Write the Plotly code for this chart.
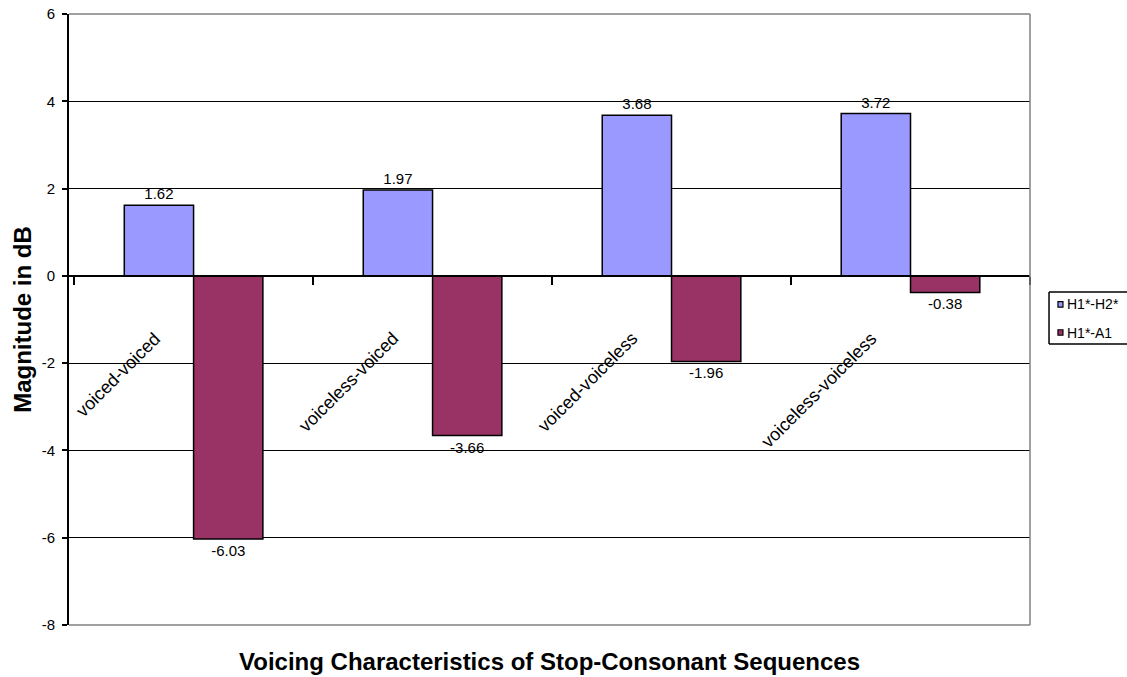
import plotly.graph_objects as go

# --------------------------
# data
# --------------------------
categories = ["voiced-voiced", "voiceless-voiced", "voiced-voiceless", "voiceless-voiceless"]
h1_h2 = [1.62, 1.97, 3.68, 3.72]
h1_a1 = [-6.03, -3.66, -1.96, -0.38]
series_names = ["H1*-H2*", "H1*-A1"]
series_colors = ["#9999FF", "#993366"]
y_ticks = [-8, -6, -4, -2, 0, 2, 4, 6]
y_tick_text = [str(v) for v in y_ticks]  # plain hyphen, like excel

FONT = "Liberation Sans, Arial, sans-serif"

fig = go.Figure()
for name, vals, col in zip(series_names, [h1_h2, h1_a1], series_colors):
    fig.add_trace(go.Bar(x=categories, y=vals, name=name,
                         marker=dict(color=col, line=dict(color="black", width=1.5)),
                         text=[f"{v:.2f}" for v in vals], texttemplate="%{text}",
                         textposition="outside", textfont=dict(size=15, color="black"),
                         cliponaxis=False))

# category labels sit under the zero line, rotated like the excel original
for c in categories:
    fig.add_annotation(x=c, y=0, xref="x", yref="y", text=c, showarrow=False,
                       textangle=-45, xanchor="right", yanchor="top",
                       xshift=-27, yshift=-50,
                       font=dict(family=FONT, size=18, color="black"))

fig.add_annotation(x=0.5, y=-0.06, xref="paper", yref="paper",
                   text="<b>Voicing Characteristics of Stop-Consonant Sequences</b>",
                   showarrow=False, yanchor="middle",
                   font=dict(family=FONT, size=24, color="black"))

# grey frame top / right / bottom
for x0, y0, x1, y1 in [(0, 1, 1, 1), (1, 0, 1, 1), (0, 0, 1, 0)]:
    fig.add_shape(type="line", xref="paper", yref="paper", x0=x0, y0=y0, x1=x1, y1=y1,
                  line=dict(color="#808080", width=1.5), layer="above")

# excel-style legend box, cut off at the right edge
lx0, lx1, ly0, ly1 = 1.0198, 1.2, 0.46, 0.545
for x0, y0, x1, y1 in [(lx0, ly0, lx0, ly1), (lx0, ly1, lx1, ly1), (lx0, ly0, lx1, ly0)]:
    fig.add_shape(type="line", xref="paper", yref="paper", x0=x0, y0=y0, x1=x1, y1=y1,
                  line=dict(color="black", width=1.5))
for i, (name, col) in enumerate(zip(series_names, series_colors)):
    yc = 0.5246 - i * 0.0459
    fig.add_shape(type="rect", xref="paper", yref="paper",
                  x0=1.0291, x1=1.0343, y0=yc - 0.0045, y1=yc + 0.0045,
                  fillcolor=col, line=dict(color="black", width=1.2))
    fig.add_annotation(x=1.0364, y=yc, xref="paper", yref="paper", text=name,
                       showarrow=False, xanchor="left", yanchor="middle",
                       font=dict(family=FONT, size=14, color="black"))

fig.update_layout(
    width=1127, height=677,
    margin=dict(l=69, r=97, t=14, b=52, autoexpand=False),
    paper_bgcolor="white", plot_bgcolor="white",
    font=dict(family=FONT, size=15, color="black"),
    barmode="group", bargap=0.42, bargroupgap=0,
    showlegend=False,
    xaxis=dict(anchor="free", position=8 / 14, showline=True, linecolor="black", linewidth=2,
               ticks="outside", tickson="boundaries", ticklen=8, tickwidth=2, tickcolor="black",
               showticklabels=False, showgrid=False),
    yaxis=dict(range=[-8, 6], tickvals=y_ticks, ticktext=y_tick_text,
               showline=True, linecolor="black", linewidth=2,
               ticks="outside", ticklen=5, tickwidth=2, tickcolor="black",
               ticklabelstandoff=4,
               showgrid=True, gridcolor="black", gridwidth=1.3, zeroline=False,
               tickfont=dict(size=15),
               title=dict(text="<b>Magnitude in dB</b>", font=dict(size=24), standoff=3)),
)

# drop the default page margin so the figure fills the window from the corner
fig.write_html("out.html", config={"displayModeBar": False},
               post_script="document.body.style.margin='0';")
